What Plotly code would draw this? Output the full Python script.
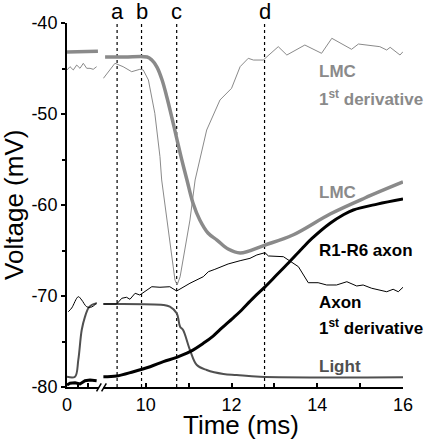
import plotly.graph_objects as go

# ---------------- data ----------------
# Left (pre-break) segment, time in ms
lmc_left_t = [0.0, 1.5, 2.9]
lmc_left_v = [-43.2, -43.15, -43.1]

lmcd_left_t = [0.0, 0.28, 0.59, 0.91, 1.22, 1.53, 1.85, 2.16, 2.46, 2.78]
lmcd_left_v = [-45.16, -44.8, -45.16, -44.62, -44.98, -44.43, -44.98, -44.98, -45.09, -44.8]

axd_left_t = [0.12, 0.44, 1.06, 1.38, 1.85, 2.31, 2.78]
axd_left_v = [-71.73, -71.32, -70.08, -70.44, -71.18, -71.21, -70.77]

axon_left_t = [0.0, 0.28, 0.75, 1.22, 1.69, 2.16, 2.78]
axon_left_v = [-79.78, -79.59, -79.53, -79.67, -79.31, -79.23, -79.31]

light_left_t = [0.0, 0.75, 1.06, 1.38, 1.69, 2.0, 2.31, 2.78]
light_left_v = [-78.87, -78.87, -77.03, -73.74, -72.27, -71.35, -70.99, -70.8]

# Right (post-break) segment
lmc_t = [9.05, 9.51, 10.03, 10.14, 10.26, 10.38, 10.49, 10.61, 10.73, 10.84, 10.96,
         11.10, 11.26, 11.45, 11.66, 11.92, 12.20, 12.78, 13.43, 14.30, 15.11, 16.0]
lmc_v = [-43.74, -43.74, -43.74, -44.07, -44.84, -46.26, -48.13, -50.44, -52.86, -55.05, -57.25,
         -59.78, -61.65, -63.08, -63.85, -64.84, -65.27, -64.4, -63.3, -60.99, -59.23, -57.47]

lmcd_t = [9.01, 9.28, 9.47, 9.67, 9.86, 9.94, 10.06, 10.21, 10.33, 10.37, 10.68, 10.73, 10.80,
          11.03, 11.15, 11.42, 11.73, 12.0, 12.2, 12.39, 12.51, 12.74, 13.09, 13.29, 13.71,
          14.10, 14.34, 14.80, 14.96, 15.46, 15.62, 15.70, 15.93, 16.0]
lmcd_v = [-46.08, -44.43, -44.8, -45.35, -45.09, -45.16, -46.26, -49.92, -54.69, -57.25, -68.24, -68.79, -67.88,
          -61.65, -57.25, -51.76, -48.46, -47.18, -44.8, -43.88, -44.07, -44.07, -42.6, -43.52, -42.42,
          -43.33, -41.68, -42.89, -42.31, -42.6, -42.97, -42.67, -43.52, -43.15]

axd_t = [9.01, 9.32, 9.44, 9.55, 9.63, 9.75, 9.86, 9.98, 10.14, 10.33, 10.56, 10.72, 11.03, 11.34,
         11.46, 11.61, 11.92, 12.2, 12.43, 12.59, 12.78, 12.86, 13.21, 13.56, 13.79, 14.02, 14.22,
         14.45, 14.69, 14.92, 15.07, 15.27, 15.46, 15.62, 15.77, 15.89, 16.0]
axd_v = [-70.88, -70.88, -70.25, -70.14, -70.36, -69.7, -69.89, -69.53, -68.98, -69.04, -68.98, -69.45, -68.6, -67.88,
         -67.33, -67.07, -66.48, -66.12, -65.86, -65.49, -65.24, -65.6, -65.68, -66.78, -68.54, -68.54, -68.79,
         -68.79, -68.43, -68.9, -68.79, -69.15, -69.34, -69.53, -69.26, -69.53, -69.04]

axon_t = [9.01, 9.32, 9.71, 10.10, 10.41, 10.72, 11.03, 11.34, 11.57, 11.73, 12.04, 12.20, 12.51,
          12.78, 13.05, 13.32, 13.64, 13.87, 14.30, 14.60, 14.84, 15.40, 16.0]
axon_v = [-78.87, -78.79, -78.32, -77.77, -77.22, -76.74, -76.12, -75.2, -74.4, -73.7, -72.4, -71.7, -70.2,
          -69.0, -67.7, -66.4, -64.8, -63.7, -62.0, -61.1, -60.55, -59.9, -59.34]

light_t = [9.01, 10.41, 10.56, 10.72, 10.80, 10.87, 11.03, 11.19, 11.42, 11.81, 12.12, 12.66, 16.0]
light_v = [-70.88, -70.99, -71.18, -71.9, -73.37, -73.74, -75.93, -77.58, -78.13, -78.57, -78.68, -78.87, -78.93]

marker_times = [9.33, 9.9, 10.72, 12.77]
marker_labels = ["a", "b", "c", "d"]

y_ticks = [-80, -70, -60, -50, -40]
y_text = ["-80", "-70", "-60", "-50", "-40"]
x_left_ticks = [0, 1, 2]
x_left_text = ["0", "", ""]
x_right_ticks = [10, 11, 12, 13, 14, 15, 16]
x_right_text = ["10", "", "12", "", "14", "", "16"]

# ---------------- style ----------------
FONT = "Liberation Sans, Arial, sans-serif"
LMC_COL = "#8a8a8a"
LIGHT_COL = "#505050"

fig = go.Figure()

def add(t, v, xa, color, width, shape="linear"):
    fig.add_trace(go.Scatter(x=t, y=v, xaxis=xa, yaxis="y", mode="lines",
                             line=dict(color=color, width=width, shape=shape),
                             showlegend=False, hoverinfo="skip"))

# left segment
add(lmc_left_t, lmc_left_v, "x", LMC_COL, 3.5)
add(lmcd_left_t, lmcd_left_v, "x", LMC_COL, 1)
add(light_left_t, light_left_v, "x", LIGHT_COL, 2, "spline")
add(axon_left_t, axon_left_v, "x", "black", 3)
add(axd_left_t, axd_left_v, "x", "black", 1, "spline")

# right segment
add(lmc_t, lmc_v, "x2", LMC_COL, 3.5, "spline")
add(lmcd_t, lmcd_v, "x2", LMC_COL, 1)
add(light_t, light_v, "x2", LIGHT_COL, 2, "spline")
add(axon_t, axon_v, "x2", "black", 3, "spline")
add(axd_t, axd_v, "x2", "black", 1)

shapes = []
annotations = []
for t, lab in zip(marker_times, marker_labels):
    shapes.append(dict(type="line", xref="x2", yref="paper", x0=t, x1=t, y0=0, y1=1,
                       line=dict(color="black", width=1.2, dash="dot"), layer="below"))
    annotations.append(dict(x=t, xref="x2", y=1, yref="paper", yanchor="bottom",
                            text=lab, showarrow=False, yshift=-3,
                            font=dict(family=FONT, size=22, color="black")))

# axis break slashes (paper coords)
for x0 in [0.088, 0.103]:
    shapes.append(dict(type="line", xref="paper", yref="paper",
                       x0=x0, x1=x0 + 0.014, y0=-0.012, y1=0.01,
                       line=dict(color="black", width=1.5)))

# trace labels
lab_x = 14.0
labels = [
    ("LMC", -45.33, LMC_COL),
    ("1<sup>st</sup> derivative", -48.2, LMC_COL),
    ("LMC", -58.63, LMC_COL),
    ("R1-R6 axon", -65.0, "black"),
    ("Axon", -70.71, "black"),
    ("1<sup>st</sup> derivative", -73.4, "black"),
    ("Light", -77.75, LIGHT_COL),
]
for txt, y, col in labels:
    annotations.append(dict(x=lab_x, xref="x2", y=y, yref="y", xanchor="left", yanchor="middle",
                            text="<b>" + txt + "</b>", showarrow=False,
                            font=dict(family=FONT, size=17, color=col)))

# axis titles
annotations.append(dict(x=-0.158, y=0.5, xref="paper", yref="paper", text="Voltage (mV)",
                        textangle=-90, showarrow=False, xanchor="center", yanchor="middle",
                        font=dict(family=FONT, size=26, color="black")))
annotations.append(dict(x=0.518, y=-0.105, xref="paper", yref="paper", text="Time (ms)",
                        showarrow=False, xanchor="center", yanchor="middle", borderpad=0,
                        font=dict(family=FONT, size=26, color="black")))

axis_common = dict(showline=True, linecolor="black", linewidth=2, showgrid=False, zeroline=False,
                   ticklen=4, tickwidth=1.5, tickcolor="black", automargin=False,
                   tickfont=dict(family=FONT, size=18, color="black"))

fig.update_layout(
    width=425, height=440,
    margin=dict(l=67, r=22, t=23, b=53, autoexpand=False),
    paper_bgcolor="white", plot_bgcolor="white",
    xaxis=dict(domain=[0, 0.0952], range=[0, 3], anchor="y", ticks="inside",
               tickmode="array", tickvals=x_left_ticks, ticktext=x_left_text, **axis_common),
    xaxis2=dict(domain=[0.107, 1], range=[9.0, 16.0], anchor="y", ticks="inside",
                tickmode="array", tickvals=x_right_ticks, ticktext=x_right_text, **axis_common),
    yaxis=dict(range=[-80, -40], anchor="x", ticks="outside", tickmode="array",
               tickvals=y_ticks, ticktext=y_text,
               minor=dict(dtick=5, ticks="outside", ticklen=3, tickcolor="black", tickwidth=1.5),
               **axis_common),
    shapes=shapes,
    annotations=annotations,
)

fig.write_html("out.html", config={"displayModeBar": False},
               post_script="document.body.style.margin='0';document.body.style.padding='0';")
